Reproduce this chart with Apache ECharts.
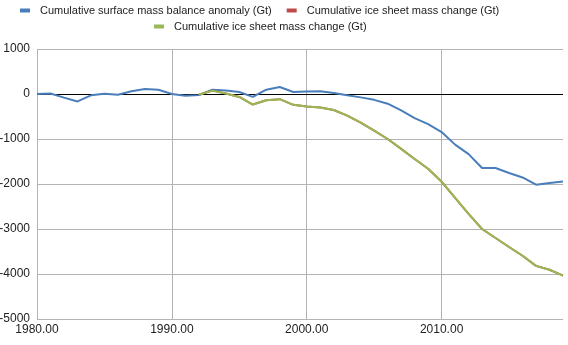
<!DOCTYPE html>
<html>
<head>
<meta charset="utf-8">
<script src="https://cdn.jsdelivr.net/npm/echarts@6/dist/echarts.min.js"></script>
<style>html,body{margin:0;padding:0;background:#fff}#c{width:568px;height:345px}</style>
</head>
<body>
<div id="c"></div>
<script>
const smbName = 'Cumulative surface mass balance anomaly (Gt)';
const iceName = 'Cumulative ice sheet mass change (Gt)';
const smbYears = [1980,1981,1982,1983,1984,1985,1986,1987,1988,1989,1990,1991,1992,1993,1994,1995,1996,1997,1998,1999,2000,2001,2002,2003,2004,2005,2006,2007,2008,2009,2010,2011,2012,2013,2014,2015,2016,2017,2018,2019];
const smbValues = [0,10,-80,-165,-30,5,-15,60,110,95,0,-40,-25,95,80,45,-65,95,155,45,55,60,20,-30,-75,-130,-215,-365,-535,-670,-845,-1125,-1335,-1645,-1645,-1755,-1855,-2015,-1980,-1945];
const iceYears = [1992,1993,1994,1995,1996,1997,1998,1999,2000,2001,2002,2003,2004,2005,2006,2007,2008,2009,2010,2011,2012,2013,2014,2015,2016,2017,2018,2019];
const iceValuesA = [-15,75,10,-65,-235,-140,-115,-240,-280,-300,-355,-480,-635,-815,-1000,-1220,-1445,-1660,-1950,-2310,-2665,-3000,-3200,-3400,-3595,-3820,-3905,-4035];
const iceValuesB = [-15,75,10,-65,-235,-140,-115,-240,-280,-300,-355,-480,-635,-815,-1000,-1220,-1445,-1660,-1950,-2310,-2665,-3000,-3200,-3400,-3595,-3820,-3905,-4035];
const colors = {blue:'#4a7ebb', red:'#be4b48', green:'#98b954'};

const pair = (xs, ys) => xs.map((x, i) => [x, ys[i]]);
const font = 'Liberation Sans, Arial, sans-serif';

const chart = echarts.init(document.getElementById('c'), null, {renderer:'canvas'});
chart.setOption({
  animation: false,
  textStyle: {fontFamily: font},
  legend: [
    {
      left: 20, top: 5, padding: 0, itemWidth: 10, itemHeight: 4, itemGap: 15,
      icon: 'rect',
      textStyle: {fontFamily: font, fontSize: 11, color: '#222', padding: [0,0,0,5]},
      data: [{name: smbName, itemStyle:{color: colors.blue}}, {name: iceName, itemStyle:{color: colors.red}}]
    },
    {
      left: 154, top: 21, padding: 0, itemWidth: 10, itemHeight: 4,
      icon: 'rect',
      textStyle: {fontFamily: font, fontSize: 11, color: '#222', padding: [0,0,0,5]},
      data: [{name: iceName, itemStyle:{color: colors.green}}]
    }
  ],
  grid: {left: 37, right: 5, top: 49, bottom: 26, containLabel: false, outerBoundsMode: 'none'},
  xAxis: {
    type: 'value', min: 1980, max: 2019, interval: 10,
    axisLine: {show: false}, axisTick: {show: false},
    axisLabel: {showMaxLabel: false, margin: 5, fontFamily: font, fontSize: 12, color: '#222',
      formatter: v => v.toFixed(2)},
    splitLine: {show: true, showMaxLine: false, lineStyle: {color: '#b3b3b3', width: 1}}
  },
  yAxis: {
    type: 'value', min: -5000, max: 1000, interval: 1000,
    axisLine: {show: false}, axisTick: {show: false},
    axisLabel: {margin: 7, fontFamily: font, fontSize: 12, color: '#222', formatter: v => String(v)},
    splitLine: {show: true, lineStyle: {color: '#b3b3b3', width: 1}}
  },
  series: [
    {
      name: smbName, type: 'line', data: pair(smbYears, smbValues),
      symbol: 'none', lineStyle: {color: colors.blue, width: 2}, itemStyle:{color: colors.blue}, z: 3,
      markLine: {silent: true, symbol: 'none', label: {show: false},
        lineStyle: {color: '#000', width: 1, type: 'solid'}, data: [{yAxis: 0}], z: 2}
    },
    {
      name: iceName, type: 'line', data: pair(iceYears, iceValuesA),
      symbol: 'none', lineStyle: {color: colors.red, width: 2}, itemStyle:{color: colors.red}, z: 3
    },
    {
      name: iceName, type: 'line', data: pair(iceYears, iceValuesB),
      symbol: 'none', lineStyle: {color: colors.green, width: 2}, itemStyle:{color: colors.green}, z: 4
    }
  ]
});
</script>
</body>
</html>
